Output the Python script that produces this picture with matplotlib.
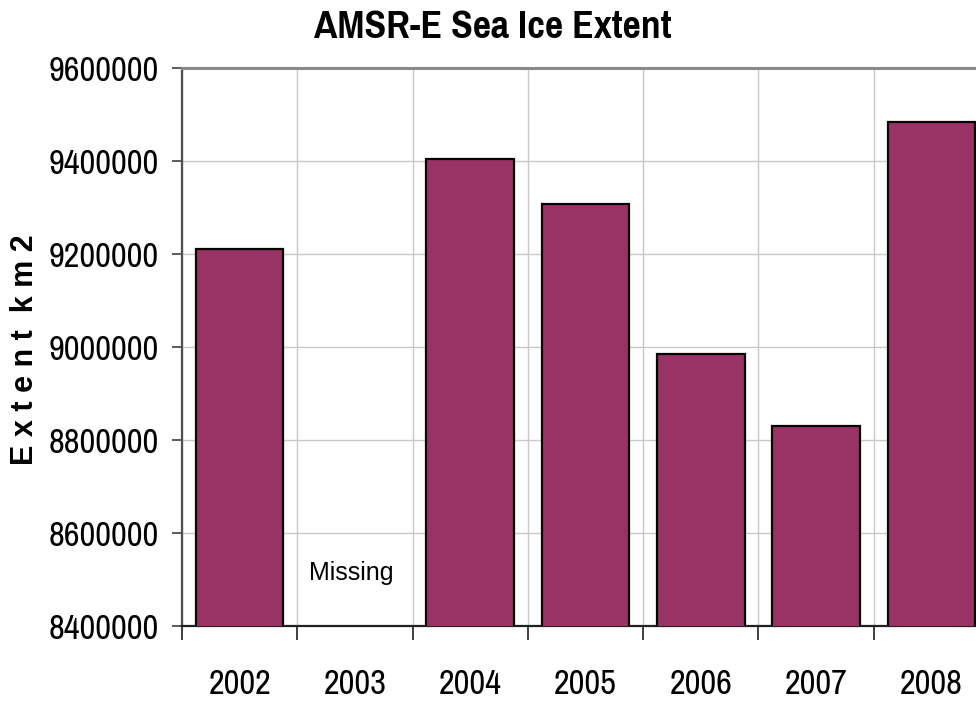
import numpy as np
import matplotlib
matplotlib.use("Agg")
import matplotlib.pyplot as plt
from matplotlib import font_manager
from matplotlib.ticker import FixedLocator, FuncFormatter

# data (2003 has no value)
years = ["2002", "2003", "2004", "2005", "2006", "2007", "2008"]
extent_km2 = [9210000, np.nan, 9405000, 9308000, 8985000, 8830000, 9484000]
y_ticks = [8400000, 8600000, 8800000, 9000000, 9200000, 9400000, 9600000]
missing_note = "Missing"

# pick a narrow sans face if one is installed
names = {f.name for f in font_manager.fontManager.ttflist}
narrow = "Liberation Sans"
for cand in ["Liberation Sans Narrow", "Arial Narrow", "Pragati Narrow", "Archivo Narrow",
             "PT Sans Narrow", "Roboto Condensed", "Arimo"]:
    if cand in names:
        narrow = cand
        break

W, H = 976, 703
fig = plt.figure(figsize=(W / 100, H / 100), dpi=100)
ax = fig.add_axes([182 / W, 1 - 626 / H, (989 - 182) / W, (626 - 68) / H])

x = np.arange(len(years))
ax.bar(x, extent_km2, width=0.76, bottom=0, color="#993366",
       edgecolor="black", linewidth=1.6, zorder=3)

ax.set_xlim(-0.5, len(years) - 0.5)
ax.set_ylim(y_ticks[0], y_ticks[-1])

# y axis
ax.yaxis.set_major_locator(FixedLocator(y_ticks))
ax.yaxis.set_major_formatter(FuncFormatter(lambda v, p: f"{int(v)}"))
ax.tick_params(axis="y", direction="out", length=7, width=1.2, color="#404040",
               pad=10, labelsize=27)
for lab in ax.get_yticklabels():
    lab.set_fontfamily(narrow)

# x axis: labels at centers, ticks / vertical grid at category edges
ax.set_xticks(x)
ax.set_xticklabels(years, fontfamily=narrow, fontsize=27)
ax.set_xticks(np.arange(-0.5, len(years)), minor=True)
ax.tick_params(axis="x", which="major", length=0, pad=30)
ax.tick_params(axis="x", which="minor", direction="out", length=10, width=1.2,
               color="#202020")

ax.grid(axis="y", which="major", color="#c8c8c8", linewidth=1.0, zorder=0)
ax.grid(axis="x", which="minor", color="#c8c8c8", linewidth=1.0, zorder=0)
ax.set_axisbelow(True)

ax.spines["right"].set_visible(False)
ax.spines["top"].set_color("#8a8a8a")
ax.spines["top"].set_linewidth(2.2)
ax.spines["left"].set_color("#505050")
ax.spines["left"].set_linewidth(1.6)
ax.spines["bottom"].set_color("#202020")
ax.spines["bottom"].set_linewidth(1.6)

ax.text(0.97, 8515000, missing_note, ha="center", va="center",
        fontsize=18, fontfamily="Liberation Sans")

fig.text(493 / W, 1 - 28 / H, "AMSR-E Sea Ice Extent", ha="center", va="center",
         fontsize=31, fontweight="bold", fontfamily=narrow)
fig.text(25 / W, 1 - 350 / H, "E x t e n t  k m 2", ha="center", va="center",
         rotation=90, fontsize=22, fontweight="bold", fontfamily="Liberation Sans")

fig.savefig("out.png", dpi=100)
